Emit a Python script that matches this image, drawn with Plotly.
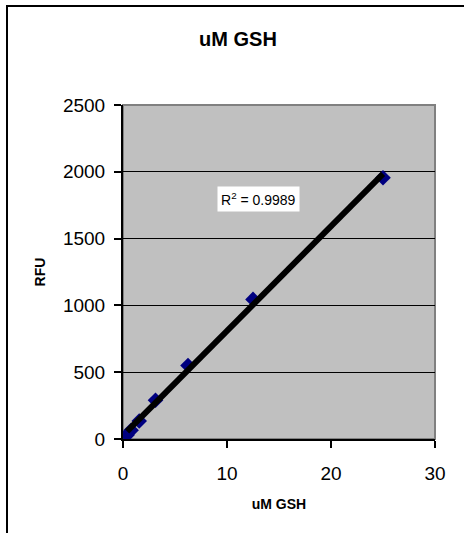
import numpy as np
import plotly.graph_objects as go

# Data
conc_uM = [0.39, 0.78, 1.56, 3.125, 6.25, 12.5, 25]
rfu = [30, 65, 135, 290, 550, 1045, 1955]
x_ticks = [0, 10, 20, 30]
y_ticks = [0, 500, 1000, 1500, 2000, 2500]
r2_label = "R<sup>2</sup> = 0.9989"

# Linear trendline (fit from data)
slope, intercept = np.polyfit(conc_uM, rfu, 1)
tx = [min(conc_uM), max(conc_uM)]
ty = [slope * v + intercept for v in tx]

W, H = 464, 533
ml, mr, mt, mb = 123, 29, 105, 94
pw, ph = W - ml - mr, H - mt - mb

FONT = "Liberation Sans, Arial, sans-serif"

fig = go.Figure()
fig.add_trace(go.Scatter(
    x=conc_uM, y=rfu, mode="markers",
    marker=dict(symbol="diamond", size=12, color="#000080"),
    showlegend=False, hoverinfo="skip"))
fig.add_trace(go.Scatter(
    x=tx, y=ty, mode="lines",
    line=dict(color="black", width=6),
    showlegend=False, hoverinfo="skip"))

def px_x(p):
    return (p - ml) / pw

def px_y(p):
    return 1 - (p - mt) / ph

shapes = [
    # plot-area gray border
    dict(type="rect", xref="paper", yref="paper", x0=0, x1=1, y0=0, y1=1,
         line=dict(color="#808080", width=2), layer="below"),
    # outer chart frame (extends beyond the image right/bottom)
    dict(type="rect", xref="paper", yref="paper",
         x0=px_x(7), x1=px_x(480), y0=px_y(560), y1=px_y(6),
         line=dict(color="black", width=2)),
]

fig.update_layout(
    width=W, height=H,
    margin=dict(l=ml, r=mr, t=mt, b=mb),
    paper_bgcolor="white", plot_bgcolor="#C0C0C0",
    font=dict(family=FONT, color="black"),
    title=dict(text="<b>uM GSH</b>", x=238 / W, xanchor="center",
               y=1 - 38.5 / H, yanchor="middle", font=dict(size=20)),
    shapes=shapes,
    xaxis=dict(range=[0, 30], tickvals=x_ticks, showgrid=False,
               zeroline=False, showline=True, linecolor="black", linewidth=2,
               ticks="outside", ticklen=7, tickwidth=2, tickcolor="black",
               tickfont=dict(size=19), ticklabelstandoff=9,
               title=dict(text="<b>uM GSH</b>", font=dict(size=14), standoff=16)),
    yaxis=dict(range=[0, 2500], tickvals=y_ticks, showgrid=True,
               gridcolor="black", gridwidth=1, zeroline=False,
               showline=True, linecolor="black", linewidth=2,
               ticks="outside", ticklen=7, tickwidth=2, tickcolor="black",
               tickfont=dict(size=19), ticklabelstandoff=5,
               title=dict(text="<b>RFU</b>", font=dict(size=14), standoff=14)),
    annotations=[dict(x=13.0, y=1800, xref="x", yref="y", text=r2_label,
                      showarrow=False, bgcolor="white",
                      font=dict(size=14, family=FONT), borderpad=3)],
)

fig.write_html("out.html", config={"displayModeBar": False},
               post_script="document.body.style.margin='0';")
